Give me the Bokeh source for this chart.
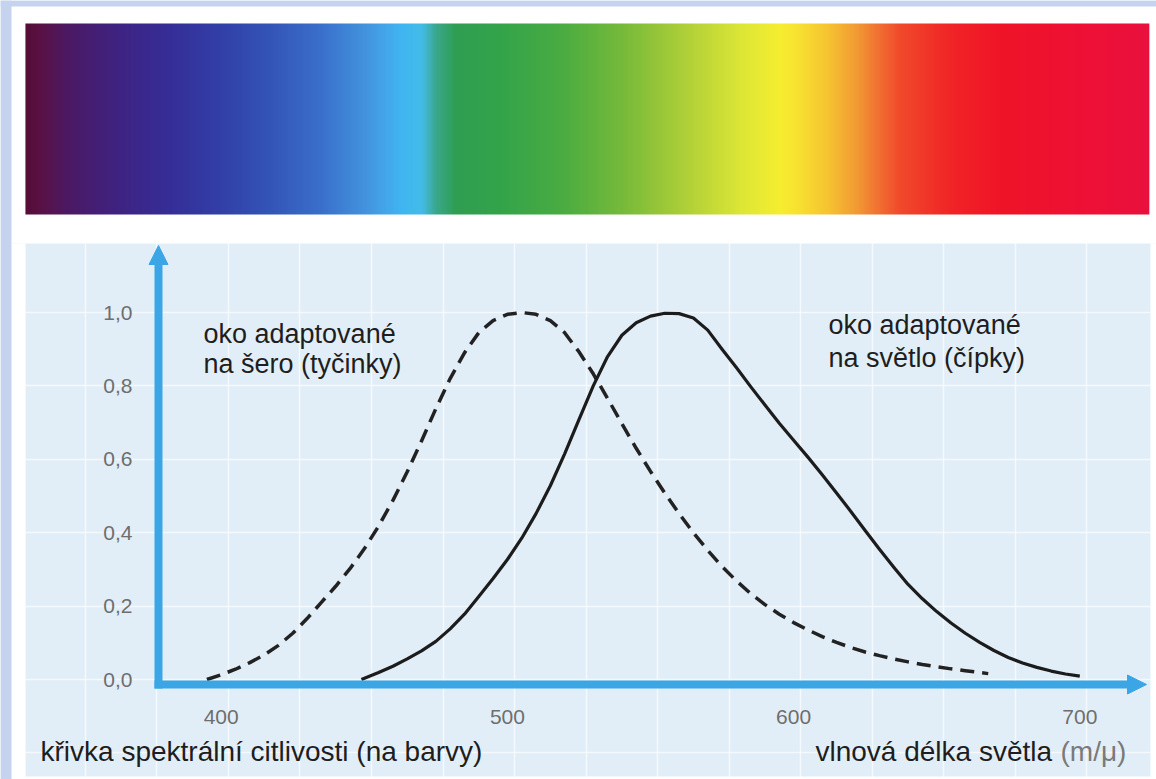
import numpy as np
from bokeh.plotting import figure
from bokeh.models import Range1d, FixedTicker, CustomJSTickFormatter, Label, Arrow, NormalHead
from bokeh.embed import file_html
from bokeh.resources import INLINE

# ---------------- data ----------------
# scotopic curve (rods, dashed)
rod_nm = [395, 400, 405, 410, 415, 420, 425, 430, 435, 440, 445, 450, 455, 460,
          465, 470, 475, 480, 485, 490, 495, 500, 505, 510, 515, 520, 525, 530,
          535, 540, 545, 550, 555, 560, 565, 570, 575, 580, 585, 590, 595, 600,
          605, 610, 615, 620, 625, 630, 635, 640, 645, 650, 655, 660, 665, 668]
rod_sens = [0.0, 0.013, 0.028, 0.046, 0.067, 0.093, 0.126, 0.166, 0.21, 0.254,
            0.302, 0.356, 0.418, 0.488, 0.566, 0.65, 0.738, 0.82, 0.89, 0.945,
            0.978, 0.995, 1.0, 0.995, 0.978, 0.945, 0.893, 0.833, 0.766, 0.697,
            0.63, 0.567, 0.508, 0.452, 0.4, 0.352, 0.308, 0.269, 0.234, 0.204,
            0.178, 0.155, 0.135, 0.117, 0.101, 0.087, 0.075, 0.065, 0.056,
            0.048, 0.041, 0.035, 0.029, 0.024, 0.019, 0.016]
# photopic curve (cones, solid)
cone_nm = [449, 455, 460, 465, 470, 475, 480, 485, 490, 495, 500, 505, 510, 515,
           520, 525, 530, 535, 540, 545, 550, 555, 560, 565, 570, 575, 580, 585,
           590, 595, 600, 605, 610, 615, 620, 625, 630, 635, 640, 645, 650, 655,
           660, 665, 670, 675, 680, 685, 690, 695, 700]
cone_sens = [0.0, 0.019, 0.036, 0.056, 0.078, 0.104, 0.138, 0.178, 0.226, 0.275,
             0.327, 0.385, 0.452, 0.528, 0.615, 0.708, 0.8, 0.88, 0.938, 0.972,
             0.99, 0.998, 0.997, 0.985, 0.952, 0.9, 0.85, 0.798, 0.748, 0.698,
             0.652, 0.606, 0.558, 0.508, 0.458, 0.406, 0.355, 0.306, 0.259,
             0.22, 0.185, 0.154, 0.126, 0.101, 0.079, 0.06, 0.045, 0.033, 0.023,
             0.015, 0.009]

x_ticks = [400, 500, 600, 700]
y_ticks = [0.0, 0.2, 0.4, 0.6, 0.8, 1.0]

# colour band above the chart: colour stops along the wavelength scale
spectrum_nm = [331.6, 337, 347, 365, 382, 400, 417, 435, 449, 457, 463, 470,
               475, 482, 498, 519, 540, 561, 581, 595, 602, 613, 622, 629,
               637, 655, 672, 707, 724.3]
spectrum_colors = ["#560d38", "#5a1246", "#4b1a66", "#3e2484", "#362e98",
                   "#3240a8", "#3455b8", "#3a70cc", "#4290dc", "#44a6ea",
                   "#40b6f2", "#44bce8", "#3aa88a", "#2f9e52", "#34a44a",
                   "#4aac42", "#76ba3a", "#acce38", "#dce636", "#f6ee30",
                   "#f8e030", "#f6c032", "#f29a34", "#f07432", "#f04a2c",
                   "#f02426", "#f01428", "#ee1038", "#e8103e"]

label_rods = ["oko adaptované", "na šero (tyčinky)"]
label_cones = ["oko adaptované", "na světlo (čípky)"]
caption_left = "křivka spektrální citlivosti (na barvy)"
caption_right = "vlnová délka světla"
caption_unit = "(m/μ)"

# ---------------- layout (page pixels) ----------------
W, H = 1156, 779
NM_A, NM_B = 2.862, -924.1      # page_x = NM_A * nm + NM_B
V0, VS = 679.0, 367.0           # page_y = V0 - VS * v


def nm(px):
    return (px - NM_B) / NM_A


def sv(py):
    return (V0 - py) / VS


AX = "#3ba6e6"
BG = "#e2eef7"
FONT = "Liberation Sans"

p = figure(width=W, height=H, title=None,
           x_range=Range1d(nm(0), nm(W)),
           y_range=Range1d(sv(H), sv(0)),
           output_backend="svg", toolbar_location=None, min_border=0)
p.background_fill_color = BG
p.border_fill_color = "white"
p.outline_line_color = None

# grid (faint white lines on the blue panel)
p.xgrid.ticker = FixedTicker(ticks=[352.5, 377.5, 402.5, 427.5, 452.5, 477.5, 502.5,
                                    527.5, 552.5, 577.5, 602.5, 627.5, 652.5, 677.5,
                                    702.5, 727.5])
p.ygrid.ticker = FixedTicker(ticks=[-0.2, 0.0, 0.2, 0.4, 0.6, 0.8, 1.0])
for g in (p.xgrid, p.ygrid):
    g.grid_line_color = "white"
    g.grid_line_alpha = 0.65
    g.grid_line_width = 1.5

# white card around the blue panel
p.quad(left=[nm(0), nm(0), nm(1150), nm(0)], right=[nm(W), nm(25), nm(W), nm(W)],
       top=[sv(0), sv(243), sv(243), sv(776)], bottom=[sv(243), sv(H), sv(H), sv(H)],
       fill_color="white", line_color=None)
# lavender frame strips (left and top)
p.quad(left=[nm(0), nm(0)], right=[nm(11), nm(W)], top=[sv(0), sv(0)],
       bottom=[sv(H), sv(6)], fill_color="#c6d3ef", line_color=None)

# spectrum band
def hex2rgb(h):
    return [int(h[i:i + 2], 16) for i in (1, 3, 5)]

rgb = np.array([hex2rgb(c) for c in spectrum_colors], dtype=float)
N = 900
lam = np.linspace(spectrum_nm[0], spectrum_nm[-1], N)
img = np.zeros((2, N), dtype=np.uint32)
view = img.view(dtype=np.uint8).reshape((2, N, 4))
for k in range(3):
    view[:, :, k] = np.interp(lam, spectrum_nm, rgb[:, k]).astype(np.uint8)
view[:, :, 3] = 255
p.image_rgba(image=[img], x=spectrum_nm[0], y=sv(214),
             dw=spectrum_nm[-1] - spectrum_nm[0], dh=sv(23) - sv(214))

# curves
p.line(rod_nm, rod_sens, line_dash="14 8", line_width=3.5, line_color="#222222",
       line_join="round")
p.line(cone_nm, cone_sens, line_width=3.2, line_color="#1c1c1c", line_join="round")

# axes drawn at fixed positions with arrow heads
p.yaxis.fixed_location = nm(158)
p.xaxis.fixed_location = sv(684)
p.yaxis.bounds = (sv(688), sv(264))
p.xaxis.bounds = (nm(154), nm(1127))
p.yaxis.ticker = FixedTicker(ticks=y_ticks)
p.xaxis.ticker = FixedTicker(ticks=x_ticks)
p.yaxis.formatter = CustomJSTickFormatter(code="return tick.toFixed(1).replace('.', ',')")
for ax in (p.xaxis, p.yaxis):
    ax.axis_line_color = AX
    ax.axis_line_width = 8
    ax.major_tick_line_color = None
    ax.minor_tick_line_color = None
    ax.major_tick_out = 0
    ax.major_tick_in = 0
    ax.major_label_text_font = FONT
    ax.major_label_text_font_size = "21px"
    ax.major_label_text_color = "#6e6e6e"
p.yaxis.major_label_standoff = 26
p.xaxis.major_label_standoff = 25

p.add_layout(Arrow(end=NormalHead(size=19, fill_color=AX, line_color=AX, line_width=1),
                   x_start=nm(158), y_start=sv(275), x_end=nm(158), y_end=sv(245),
                   line_alpha=0))
p.add_layout(Arrow(end=NormalHead(size=19, fill_color=AX, line_color=AX, line_width=1),
                   x_start=nm(1110), y_start=sv(684), x_end=nm(1146), y_end=sv(684),
                   line_alpha=0))

# texts
def add_label(px, py, text, size, color="#1e1e1e", align="left"):
    p.add_layout(Label(x=nm(px), y=sv(py), text=text, text_font=FONT,
                       text_font_size=size, text_color=color,
                       text_baseline="alphabetic", text_align=align))

add_label(203, 333, label_rods[0], "27px")
add_label(203, 363, label_rods[1], "27px")
add_label(828, 324, label_cones[0], "27px")
add_label(828, 357, label_cones[1], "27px")
add_label(40, 751, caption_left, "28px")
add_label(815, 751, caption_right, "28px")
add_label(1060, 751, caption_unit, "28px", color="#7a7a7a")

open("out.html", "w").write(file_html(p, INLINE))
